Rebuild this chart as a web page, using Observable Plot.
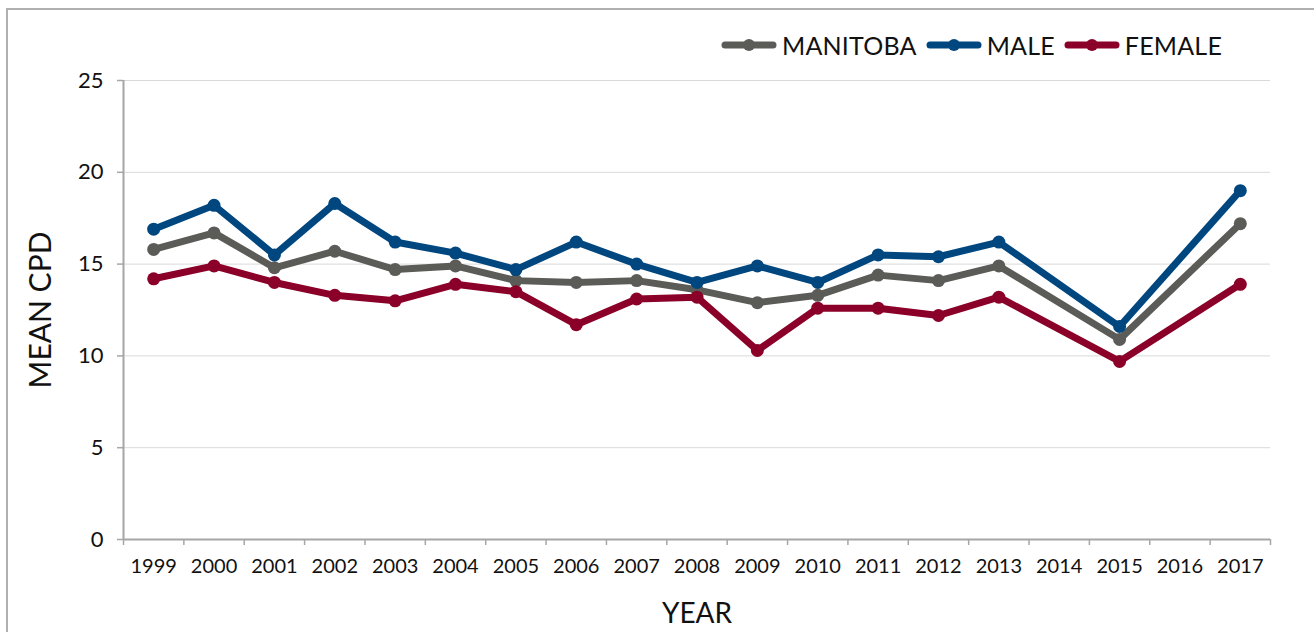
<!DOCTYPE html>
<html>
<head>
<meta charset="utf-8">
<script src="https://cdn.jsdelivr.net/npm/d3@7"></script>
<script src="https://cdn.jsdelivr.net/npm/@observablehq/plot@0.6"></script>
<style>
  html, body { margin: 0; padding: 0; background: #fff; }
  body { width: 1314px; height: 632px; overflow: hidden; position: relative; font-family: Lato, "Noto Sans", sans-serif; }
  #frame { position: absolute; left: 6px; top: 8px; width: 1400px; height: 700px; border-top: 2px solid #b0b0b0; border-left: 2px solid #b0b0b0; box-sizing: border-box; }
  #chart { position: absolute; left: 0; top: 0; }
  #legend { position: absolute; top: 30px; left: 721px; display: flex; align-items: center; font-size: 25px; color: #111; line-height: 30px; letter-spacing: 0.2px; }
  #legend .item { display: flex; align-items: center; margin-right: 9px; }
  #legend svg { margin-right: 5px; }
</style>
</head>
<body>
<div id="frame"></div>
<div id="chart"></div>
<div id="legend"></div>
<script>
const years = [1999,2000,2001,2002,2003,2004,2005,2006,2007,2008,2009,2010,2011,2012,2013,2014,2015,2016,2017];
const seriesNames = ["MANITOBA", "MALE", "FEMALE"];
const seriesColors = ["#5b5c58", "#00467f", "#8b0029"];
// null = no data (2014, 2016)
const manitoba = [15.8,16.7,14.8,15.7,14.7,14.9,14.1,14.0,14.1,13.6,12.9,13.3,14.4,14.1,14.9,null,10.9,null,17.2];
const male     = [16.9,18.2,15.5,18.3,16.2,15.6,14.7,16.2,15.0,14.0,14.9,14.0,15.5,15.4,16.2,null,11.6,null,19.0];
const female   = [14.2,14.9,14.0,13.3,13.0,13.9,13.5,11.7,13.1,13.2,10.3,12.6,12.6,12.2,13.2,null,9.7,null,13.9];
const yTicks = [0,5,10,15,20,25];

const seriesValues = [manitoba, male, female];
const data = [];
seriesNames.forEach((s, i) => {
  years.forEach((yr, j) => {
    const v = seriesValues[i][j];
    if (v != null) data.push({series: s, year: yr, value: v});
  });
});
const boundaries = years.map(y => y - 0.5).concat([years[years.length - 1] + 0.5]);

const plot = Plot.plot({
  width: 1314,
  height: 632,
  marginTop: 80,
  marginBottom: 93,
  marginLeft: 123,
  marginRight: 44,
  style: {fontFamily: "Lato, 'Noto Sans', sans-serif", color: "#111", background: "transparent"},
  x: {type: "linear", domain: [years[0] - 0.5, years[years.length - 1] + 0.5]},
  y: {type: "linear", domain: [0, 25]},
  color: {domain: seriesNames, range: seriesColors},
  marks: [
    Plot.gridY(yTicks, {stroke: "#d9d9d9", strokeOpacity: 1, strokeWidth: 1}),
    Plot.ruleY([0], {stroke: "#a6a6a6", strokeWidth: 2}),
    Plot.ruleX([boundaries[0]], {y1: 0, y2: 25, stroke: "#a6a6a6", strokeWidth: 2}),
    Plot.axisX(boundaries, {tickSize: 6, stroke: "#a6a6a6", strokeWidth: 1.5, tickFormat: () => "", label: null}),
    Plot.axisY(yTicks, {tickSize: 6, tickPadding: 14, fontSize: 22, stroke: "#a6a6a6", strokeWidth: 1.5, label: null, tickFormat: d3.format("d"), fill: "#111"}),
    Plot.axisX(years, {tickSize: 0, tickPadding: 19, fontSize: 20, label: null, tickFormat: d => String(d), fill: "#111"}),
    Plot.line(data, {x: "year", y: "value", z: "series", stroke: "series", strokeWidth: 7, strokeLinejoin: "round", strokeLinecap: "round"}),
    Plot.dot(data, {x: "year", y: "value", fill: "series", r: 6.5}),
    Plot.text(["MEAN CPD"], {frameAnchor: "left", rotate: -90, dx: -82, fontSize: 30, fill: "#111", textAnchor: "middle", lineAnchor: "middle"}),
    Plot.text(["YEAR"], {frameAnchor: "bottom", dy: 75, fontSize: 28, fill: "#111", textAnchor: "middle", lineAnchor: "middle", style: "letter-spacing:2px"})
  ]
});
document.getElementById("chart").appendChild(plot);

const legend = document.getElementById("legend");
seriesNames.forEach((s, i) => {
  const item = document.createElement("div");
  item.className = "item";
  item.innerHTML = `<svg width="56" height="14"><line x1="4" y1="7" x2="52" y2="7" stroke="${seriesColors[i]}" stroke-width="7" stroke-linecap="round"/><circle cx="28" cy="7" r="6" fill="${seriesColors[i]}"/></svg><span>${s}</span>`;
  legend.appendChild(item);
});
</script>
</body>
</html>
